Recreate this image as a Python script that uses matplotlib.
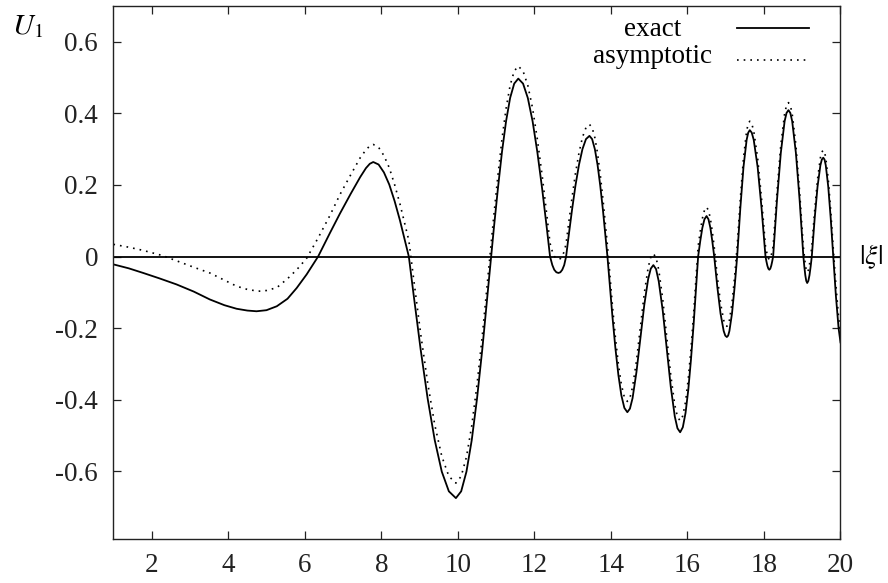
import matplotlib
matplotlib.use('Agg')
import matplotlib.pyplot as plt
import matplotlib.transforms as mtransforms
from matplotlib.ticker import FuncFormatter

# Values
xi_exact = [1.0, 1.4, 1.78, 2.2, 2.65, 3.1, 3.52, 3.9, 4.22, 4.5, 4.74, 5.0, 5.27, 5.55, 5.79, 6.05,
            6.35, 6.66, 6.92, 7.2, 7.45, 7.6, 7.7, 7.79,
            7.93, 8.069, 8.209, 8.348, 8.488, 8.627, 8.72, 8.843, 9.028, 9.212, 9.397, 9.581, 9.766,
            9.95, 10.088, 10.226, 10.364, 10.502, 10.64, 10.778, 10.87, 10.941, 11.048, 11.154,
            11.261, 11.367, 11.474, 11.58, 11.705, 11.829, 11.954, 12.078, 12.203, 12.327, 12.41,
            12.47, 12.52, 12.575, 12.63, 12.68, 12.73, 12.78, 12.83, 12.891, 12.983, 13.074, 13.166,
            13.257, 13.349, 13.44, 13.51, 13.581, 13.652, 13.722, 13.793, 13.863, 13.91, 13.962,
            14.04, 14.118, 14.196, 14.274, 14.352, 14.43, 14.498, 14.566, 14.668, 14.77, 14.872,
            14.974, 15.042, 15.11, 15.18, 15.25, 15.355, 15.46, 15.565, 15.67, 15.74, 15.81, 15.88,
            15.951, 16.022, 16.092, 16.163, 16.233, 16.28, 16.335, 16.39, 16.445, 16.50, 16.55,
            16.60, 16.65, 16.70, 16.7825, 16.865, 16.9475, 16.989, 17.03, 17.064, 17.0975, 17.165,
            17.2325, 17.30, 17.3825, 17.465, 17.5475, 17.589, 17.63, 17.681, 17.7325, 17.835,
            17.9375, 18.04, 18.065, 18.09, 18.115, 18.14, 18.165, 18.19, 18.215, 18.24, 18.34,
            18.44, 18.54, 18.59, 18.64, 18.689, 18.7375, 18.835, 18.9325, 19.03, 19.055, 19.08,
            19.105, 19.13, 19.16, 19.19, 19.22, 19.25, 19.325, 19.40, 19.475, 19.5125, 19.55,
            19.5825, 19.615, 19.68, 19.745, 19.81, 19.88, 19.95, 20.0]
u_exact = [-0.022, -0.033, -0.046, -0.061, -0.078, -0.098, -0.120, -0.136, -0.146, -0.151, -0.153,
           -0.150, -0.139, -0.118, -0.088, -0.050, 0.0, 0.066, 0.120, 0.175, 0.222, 0.247, 0.259,
           0.264,
           0.257, 0.235, 0.201, 0.155, 0.101, 0.041, 0.0, -0.105, -0.259, -0.397, -0.513, -0.601,
           -0.656, -0.675, -0.656, -0.601, -0.513, -0.397, -0.259, -0.105, 0.0, 0.078, 0.190,
           0.292, 0.378, 0.443, 0.483, 0.497, 0.483, 0.443, 0.378, 0.292, 0.190, 0.078, 0.0,
           -0.024, -0.037, -0.044, -0.046, -0.044, -0.037, -0.024, 0.0, 0.053, 0.129, 0.198, 0.256,
           0.300, 0.328, 0.337, 0.328, 0.300, 0.256, 0.198, 0.129, 0.053, 0.0, -0.068, -0.167,
           -0.256, -0.331, -0.388, -0.423, -0.435, -0.425, -0.396, -0.323, -0.230, -0.136, -0.063,
           -0.034, -0.024, -0.035, -0.069, -0.151, -0.258, -0.364, -0.447, -0.480, -0.491, -0.477,
           -0.437, -0.373, -0.289, -0.188, -0.077, 0.0, 0.043, 0.080, 0.104, 0.113, 0.104, 0.080,
           0.043, 0.0, -0.086, -0.159, -0.208, -0.221, -0.225, -0.221, -0.208, -0.159, -0.086, 0.0,
           0.135, 0.250, 0.326, 0.346, 0.353, 0.346, 0.326, 0.250, 0.135, 0.0, -0.014, -0.026,
           -0.034, -0.037, -0.034, -0.026, -0.014, 0.0, 0.157, 0.289, 0.378, 0.401, 0.409, 0.401,
           0.378, 0.289, 0.157, 0.0, -0.028, -0.052, -0.068, -0.074, -0.068, -0.052, -0.028, 0.0,
           0.106, 0.195, 0.255, 0.271, 0.276, 0.271, 0.255, 0.195, 0.106, 0.0, -0.11, -0.20, -0.24]

xi_asym = [1.0, 1.4, 1.78, 2.2, 2.35, 2.65, 3.1, 3.52, 3.9, 4.22, 4.5, 4.79, 5.0, 5.27, 5.55, 5.79,
           6.05, 6.35, 6.66, 6.92, 7.2, 7.45, 7.6, 7.7, 7.79,
           7.93, 8.069, 8.209, 8.348, 8.488, 8.627, 8.72, 8.843, 9.028, 9.212, 9.397, 9.581, 9.766,
           9.95, 10.088, 10.226, 10.364, 10.502, 10.64, 10.778, 10.87, 10.941, 11.048, 11.154,
           11.261, 11.367, 11.474, 11.58, 11.705, 11.829, 11.954, 12.078, 12.203, 12.327, 12.41,
           12.47, 12.52, 12.575, 12.63, 12.68, 12.73, 12.78, 12.83, 12.891, 12.983, 13.074, 13.166,
           13.257, 13.349, 13.44, 13.51, 13.581, 13.652, 13.722, 13.793, 13.863, 13.91, 13.962,
           14.04, 14.118, 14.196, 14.274, 14.352, 14.43, 14.498, 14.566, 14.668, 14.77, 14.872,
           14.974, 15.042, 15.11, 15.18, 15.25, 15.355, 15.46, 15.565, 15.67, 15.74, 15.81, 15.88,
           15.951, 16.022, 16.092, 16.163, 16.233, 16.28, 16.335, 16.39, 16.445, 16.50, 16.55,
           16.60, 16.65, 16.70, 16.7825, 16.865, 16.9475, 16.989, 17.03, 17.064, 17.0975, 17.165,
           17.2325, 17.30, 17.3825, 17.465, 17.5475, 17.589, 17.63, 17.681, 17.7325, 17.835,
           17.9375, 18.04, 18.065, 18.09, 18.115, 18.14, 18.165, 18.19, 18.215, 18.24, 18.34,
           18.44, 18.54, 18.59, 18.64, 18.689, 18.7375, 18.835, 18.9325, 19.03, 19.055, 19.08,
           19.105, 19.13, 19.16, 19.19, 19.22, 19.25, 19.325, 19.40, 19.475, 19.5125, 19.55,
           19.5825, 19.615, 19.68, 19.745, 19.81, 19.88, 19.95, 20.0]
u_asym = [0.034, 0.026, 0.017, 0.005, 0.0, -0.012, -0.030, -0.046, -0.066, -0.083, -0.092, -0.097,
          -0.095, -0.087, -0.062, -0.037, -0.005, 0.052, 0.115, 0.173, 0.228, 0.276, 0.298, 0.309,
          0.313,
          0.305, 0.282, 0.248, 0.201, 0.147, 0.086, 0.045, -0.060, -0.215, -0.353, -0.470, -0.558,
          -0.614, -0.633, -0.614, -0.560, -0.473, -0.358, -0.221, -0.067, 0.037, 0.114, 0.226,
          0.328, 0.413, 0.478, 0.518, 0.532, 0.518, 0.478, 0.414, 0.328, 0.227, 0.115, 0.037,
          0.014, 0.001, -0.006, -0.008, -0.006, 0.001, 0.014, 0.036, 0.088, 0.163, 0.232, 0.289,
          0.333, 0.360, 0.369, 0.360, 0.332, 0.288, 0.229, 0.160, 0.084, 0.031, -0.037, -0.137,
          -0.226, -0.301, -0.358, -0.393, -0.405, -0.395, -0.365, -0.292, -0.199, -0.104, -0.031,
          -0.002, 0.008, -0.003, -0.037, -0.119, -0.226, -0.332, -0.415, -0.448, -0.459, -0.445,
          -0.406, -0.342, -0.259, -0.158, -0.048, 0.028, 0.070, 0.106, 0.129, 0.138, 0.129, 0.106,
          0.070, 0.027, -0.058, -0.130, -0.178, -0.191, -0.195, -0.191, -0.178, -0.130, -0.058,
          0.028, 0.161, 0.275, 0.351, 0.371, 0.378, 0.371, 0.351, 0.275, 0.161, 0.028, 0.015,
          0.003, -0.005, -0.008, -0.005, 0.003, 0.015, 0.028, 0.180, 0.311, 0.399, 0.422, 0.430,
          0.422, 0.399, 0.311, 0.180, 0.026, 0.002, -0.022, -0.038, -0.044, -0.038, -0.022, 0.002,
          0.026, 0.128, 0.216, 0.276, 0.292, 0.297, 0.292, 0.276, 0.216, 0.128, 0.024, -0.08,
          -0.17, -0.21]

x_ticks = [2, 4, 6, 8, 10, 12, 14, 16, 18, 20]
y_ticks = [-0.6, -0.4, -0.2, 0.0, 0.2, 0.4, 0.6]

plt.rcParams['font.family'] = ['Liberation Serif', 'DejaVu Serif']
plt.rcParams['mathtext.fontset'] = 'stix'
plt.rcParams['axes.unicode_minus'] = False

fig = plt.figure(figsize=(8.88, 5.83), dpi=100)
ax = fig.add_axes([0.1277, 0.075, 0.8188, 0.9148])

ax.axhline(0, color='black', lw=1.3)
ax.plot(xi_exact, u_exact, color='black', lw=1.3)
ax.plot(xi_asym, u_asym, color='black', lw=1.2, linestyle=(0, (1, 3)))

ax.set_xlim(1, 20)
ax.set_ylim(-0.79, 0.70)
ax.set_xticks(x_ticks)
ax.set_yticks(y_ticks)
ax.yaxis.set_major_formatter(FuncFormatter(lambda v, p: '0' if abs(v) < 1e-9 else '%.1f' % v))
ax.tick_params(direction='in', top=True, right=True, length=5.5, width=0.9,
               labelsize=19.5, colors='#222222')
ax.tick_params(axis='x', pad=10)
ax.tick_params(axis='y', pad=11)
for s in ax.spines.values():
    s.set_linewidth(1.0)
    s.set_color('#222222')

# key drawn by hand, gnuplot style (centred text, sample on the right)
ax.text(0.741, 0.955, 'exact', transform=ax.transAxes, ha='center', va='center', fontsize=19.5)
ax.text(0.741, 0.906, 'asymptotic', transform=ax.transAxes, ha='center', va='center', fontsize=19.5)
ax.plot([0.858, 0.957], [0.959, 0.959], transform=ax.transAxes, color='black', lw=1.3)
ax.plot([0.858, 0.957], [0.898, 0.898], transform=ax.transAxes, color='black', lw=1.2,
        linestyle=(0, (1, 3)))

fig.text(12 / 888, 1 - 34 / 583, r'$U_1$', ha='left', va='baseline', fontsize=21)
trans = mtransforms.blended_transform_factory(ax.transAxes, ax.transData)
ax.text(1.025, 0, r'$|\xi|$', transform=trans, ha='left', va='center', fontsize=20)

fig.savefig('out.png', dpi=100)
